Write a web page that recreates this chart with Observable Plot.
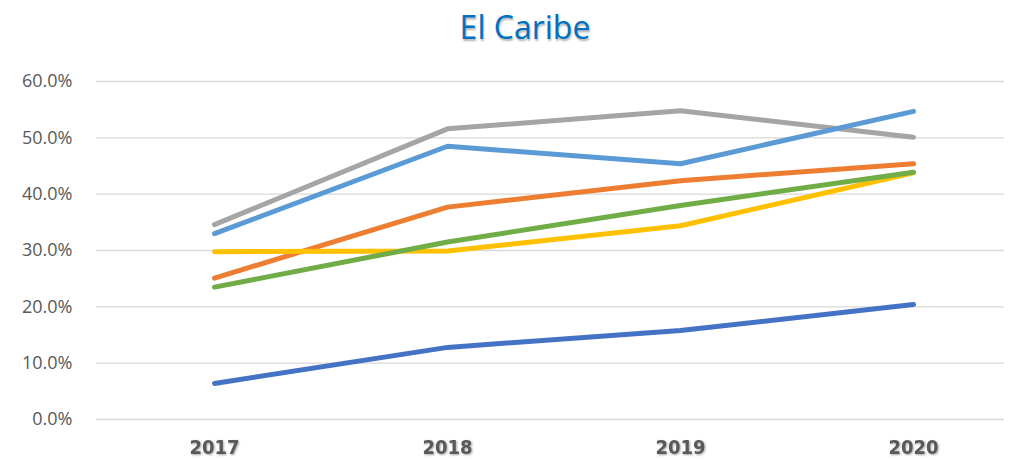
<!DOCTYPE html>
<html>
<head>
<meta charset="utf-8">
<script src="https://cdn.jsdelivr.net/npm/d3@7"></script>
<script src="https://cdn.jsdelivr.net/npm/@observablehq/plot@0.6"></script>
<style>
  html, body { margin: 0; padding: 0; background: #fff; }
  #wrap { width: 1010px; height: 460px; position: relative; overflow: hidden; }
  #title {
    height: 56px; line-height: 54px; text-align: center;
    font-family: "Open Sans", sans-serif; font-size: 32px; color: #0070C0;
    text-shadow: 1px 2px 2px rgba(0,0,0,0.3);
    padding-left: 40px; box-sizing: border-box;
  }
  .xax text { filter: drop-shadow(1px 1.5px 1px rgba(0,0,0,0.35)); }
</style>
</head>
<body>
<div id="wrap">
  <div id="title">El Caribe</div>
  <div id="chart"></div>
</div>
<script>
const years = ["2017", "2018", "2019", "2020"];
const seriesNames = ["Serie 1", "Serie 2", "Serie 3", "Serie 4", "Serie 5", "Serie 6"];
const seriesColors = ["#4472C4", "#ED7D31", "#A5A5A5", "#FFC000", "#5B9BD5", "#70AD47"];
const serie1 = [6.4, 12.8, 15.8, 20.4];
const serie2 = [25.1, 37.7, 42.4, 45.4];
const serie3 = [34.6, 51.6, 54.8, 50.1];
const serie4 = [29.8, 29.9, 34.4, 43.8];
const serie5 = [33.0, 48.5, 45.4, 54.7];
const serie6 = [23.5, 31.5, 38.0, 43.9];
const yTicks = [0, 10, 20, 30, 40, 50, 60];

const allSeries = [serie1, serie2, serie3, serie4, serie5, serie6];
const rows = [];
allSeries.forEach((vals, i) => {
  vals.forEach((v, j) => rows.push({series: seriesNames[i], year: years[j], value: v}));
});

const chart = Plot.plot({
  width: 1010,
  height: 404,
  marginLeft: 96,
  marginRight: 6,
  marginTop: 25,
  marginBottom: 41,
  style: {background: "#fff"},
  x: {type: "point", domain: years, range: [213, 913], padding: 0, label: null},
  y: {domain: [0, 60], label: null},
  color: {domain: seriesNames, range: seriesColors},
  marks: [
    Plot.ruleY(yTicks, {stroke: "#D9D9D9", strokeWidth: 1.3}),
    Plot.axisY({
      ticks: yTicks, tickSize: 0, tickPadding: 24, label: null,
      tickFormat: d => d.toFixed(1) + "%",
      fontSize: 18, fill: "#595959", fontFamily: "Open Sans, sans-serif"
    }),
    Plot.axisX({
      tickSize: 0, tickPadding: 20, label: null,
      fontSize: 20, fontWeight: "bold", fill: "#595959",
      fontFamily: "Liberation Sans Narrow, DejaVu Sans Condensed, sans-serif",
      className: "xax"
    }),
    Plot.line(rows, {
      x: "year", y: "value", z: "series", stroke: "series",
      strokeWidth: 5, strokeLinecap: "round", strokeLinejoin: "round"
    })
  ]
});
document.getElementById("chart").appendChild(chart);
</script>
</body>
</html>
